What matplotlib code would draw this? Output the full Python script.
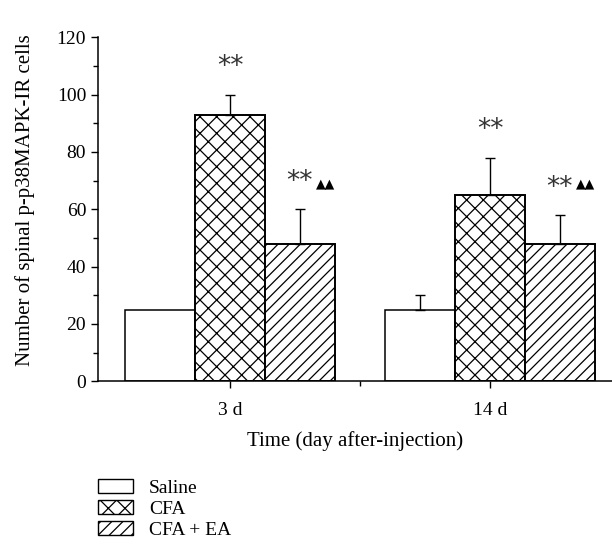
import numpy as np
import matplotlib
matplotlib.use("Agg")
import matplotlib.pyplot as plt
from matplotlib.patches import Patch

plt.rcParams['font.family'] = ['Liberation Serif', 'DejaVu Sans']
plt.rcParams['hatch.linewidth'] = 0.9

# donnees
temps = ["3 d", "14 d"]
groupes = ["Saline", "CFA", "CFA + EA"]
moyennes = {
    "Saline": [25, 25],
    "CFA": [93, 65],
    "CFA + EA": [48, 48],
}
erreurs = {
    "Saline": [0, 5],
    "CFA": [7, 13],
    "CFA + EA": [12, 10],
}
# etoiles / triangles au-dessus des barres
etoiles = {
    "Saline": ["", ""],
    "CFA": ["**", "**"],
    "CFA + EA": ["**", "**"],
}
triangles = {
    "Saline": ["", ""],
    "CFA": ["", ""],
    "CFA + EA": ["▲▲", "▲▲"],
}

hachures = {"Saline": "", "CFA": "xx", "CFA + EA": "///"}

fig = plt.figure(figsize=(6.12, 5.5), dpi=100)
ax = fig.add_axes([98 / 612, 0.307, 1 - 98 / 612, 0.625])

x = np.arange(len(temps))
w = 0.269
for i, g in enumerate(groupes):
    pos = x + (i - 1) * w
    ax.bar(pos, moyennes[g], width=w, color="white", edgecolor="black",
           hatch=hachures[g], linewidth=1.4 if g != "Saline" else 1.1, zorder=2)
    for j in range(len(temps)):
        top = moyennes[g][j] + erreurs[g][j]
        if erreurs[g][j] > 0:
            ax.errorbar(pos[j], moyennes[g][j], yerr=[[0], [erreurs[g][j]]],
                        fmt="none", ecolor="black", elinewidth=1.0,
                        capsize=3.5, capthick=1.0, zorder=3)
        if etoiles[g][j]:
            ax.text(pos[j], top + 9.5, etoiles[g][j], ha="center", va="center",
                    fontsize=19, family=["DejaVu Sans"], color="#333333")
        if triangles[g][j]:
            ax.text(pos[j] + 0.10, 69, triangles[g][j], ha="center",
                    va="center", fontsize=9, family=["DejaVu Sans"])

ax.set_xlim(-0.5077, -0.5077 + 514 / 260)
ax.set_ylim(0, 120)
ax.set_yticks(np.arange(0, 121, 20))
ax.set_yticks(np.arange(10, 120, 20), minor=True)
ax.set_xticks(x)
ax.set_xticklabels(temps)
ax.set_xticks([0.5], minor=True)

for s in ["top", "right"]:
    ax.spines[s].set_visible(False)
for s in ["left", "bottom"]:
    ax.spines[s].set_linewidth(1.1)

ax.tick_params(axis="both", which="major", length=5, width=1.0, labelsize=14)
ax.tick_params(axis="both", which="minor", length=3.5, width=1.0)
ax.tick_params(axis="x", pad=10)

ax.set_ylabel("Number of spinal p-p38MAPK-IR cells", fontsize=15)
ax.yaxis.set_label_coords(-0.122, 0.528)
ax.set_xlabel("Time (day after-injection)", fontsize=15, labelpad=9)

poignees = [Patch(facecolor="white", edgecolor="black", hatch=hachures[g],
                  linewidth=1.0) for g in groupes]
fig.legend(poignees, groupes, loc="upper left", bbox_to_anchor=(0.148, 0.143),
           frameon=False, fontsize=14, handlelength=1.8, handleheight=0.7,
           labelspacing=0.18, handletextpad=0.8, borderaxespad=0)

plt.savefig("out.png", dpi=100)
